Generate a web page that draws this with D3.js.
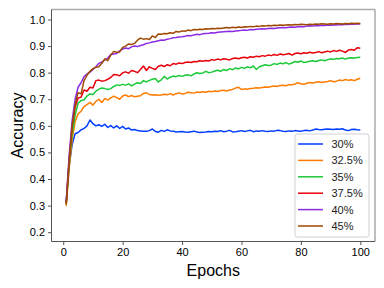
<!DOCTYPE html>
<html>
<head>
<meta charset="utf-8">
<script src="https://cdn.jsdelivr.net/npm/d3@7"></script>
<style>
  body { margin: 0; background: #fff; }
  svg { display: block; font-family: "Liberation Sans", Arial, sans-serif; }
</style>
</head>
<body>
<svg id="chart" width="384" height="288"></svg>
<script>
// accuracy per epoch (epochs 1..100)
var labels = ["30%", "32.5%", "35%", "37.5%", "40%", "45%"];
var colors = ["#023eff", "#ff7c00", "#1ac938", "#e8000b", "#8b2be2", "#9f4800"];
var xTicks = [0, 20, 40, 60, 80, 100];
var yTicks = [0.2, 0.3, 0.4, 0.5, 0.6, 0.7, 0.8, 0.9, 1.0];

var acc30 = [0.31,0.45,0.53,0.57,0.575,0.585,0.59,0.60,0.622,0.608,
  0.600,0.604,0.598,0.606,0.594,0.601,0.592,0.600,0.590,0.598,
  0.588,0.592,0.584,0.586,0.582,0.581,0.580,0.580,0.582,0.588,
  0.579,0.576,0.583,0.579,0.585,0.581,0.580,0.577,0.578,0.579,
  0.577,0.576,0.578,0.580,0.577,0.575,0.576,0.577,0.579,0.578,
  0.580,0.579,0.582,0.578,0.580,0.583,0.577,0.578,0.580,0.582,
  0.579,0.581,0.583,0.578,0.581,0.580,0.582,0.580,0.579,0.581,
  0.580,0.583,0.582,0.580,0.579,0.581,0.580,0.582,0.581,0.580,
  0.582,0.583,0.581,0.584,0.588,0.586,0.585,0.587,0.588,0.587,
  0.586,0.588,0.587,0.589,0.584,0.582,0.586,0.587,0.585,0.584];
var acc325 = [0.298,0.44,0.55,0.615,0.645,0.655,0.672,0.68,0.688,0.678,
  0.692,0.700,0.688,0.703,0.697,0.705,0.712,0.706,0.700,0.712,
  0.716,0.710,0.714,0.709,0.711,0.713,0.722,0.724,0.718,0.716,
  0.717,0.715,0.716,0.719,0.717,0.721,0.716,0.721,0.724,0.720,
  0.722,0.726,0.724,0.723,0.727,0.725,0.728,0.726,0.730,0.728,
  0.731,0.729,0.733,0.734,0.731,0.735,0.737,0.742,0.745,0.737,
  0.739,0.738,0.740,0.741,0.743,0.742,0.744,0.746,0.745,0.748,
  0.750,0.748,0.752,0.753,0.751,0.755,0.754,0.757,0.762,0.758,
  0.756,0.760,0.763,0.761,0.764,0.766,0.763,0.765,0.767,0.770,
  0.766,0.768,0.772,0.770,0.774,0.771,0.773,0.770,0.775,0.779];
var acc35 = [0.305,0.46,0.57,0.64,0.685,0.695,0.697,0.712,0.720,0.718,
  0.730,0.738,0.742,0.740,0.737,0.740,0.748,0.754,0.752,0.756,
  0.753,0.758,0.750,0.757,0.762,0.759,0.770,0.765,0.771,0.775,
  0.778,0.765,0.773,0.786,0.776,0.783,0.787,0.785,0.789,0.786,
  0.790,0.792,0.788,0.795,0.800,0.797,0.799,0.805,0.800,0.802,
  0.806,0.809,0.805,0.812,0.808,0.815,0.811,0.818,0.814,0.820,
  0.816,0.822,0.818,0.825,0.812,0.822,0.826,0.830,0.827,0.828,
  0.834,0.831,0.836,0.833,0.838,0.832,0.836,0.842,0.839,0.844,
  0.838,0.840,0.843,0.845,0.842,0.846,0.848,0.845,0.849,0.851,
  0.850,0.853,0.852,0.855,0.851,0.855,0.856,0.855,0.857,0.858];
var acc375 = [0.31,0.47,0.60,0.67,0.705,0.708,0.735,0.730,0.745,0.742,
  0.770,0.772,0.768,0.770,0.775,0.782,0.793,0.792,0.788,0.800,
  0.803,0.798,0.808,0.805,0.800,0.812,0.825,0.808,0.822,0.816,
  0.812,0.824,0.828,0.823,0.830,0.826,0.834,0.832,0.836,0.834,
  0.838,0.840,0.838,0.842,0.841,0.845,0.843,0.846,0.844,0.849,
  0.847,0.851,0.848,0.852,0.850,0.848,0.853,0.855,0.852,0.856,
  0.858,0.855,0.860,0.858,0.862,0.860,0.864,0.862,0.866,0.864,
  0.868,0.865,0.870,0.867,0.869,0.872,0.866,0.872,0.874,0.871,
  0.875,0.873,0.877,0.874,0.876,0.879,0.875,0.878,0.881,0.878,
  0.883,0.880,0.884,0.881,0.876,0.885,0.887,0.884,0.894,0.892];
var acc40 = [0.315,0.49,0.62,0.70,0.745,0.762,0.785,0.795,0.802,0.812,
  0.822,0.835,0.840,0.848,0.855,0.868,0.870,0.872,0.882,0.889,
  0.893,0.890,0.897,0.900,0.898,0.902,0.905,0.910,0.912,0.915,
  0.917,0.920,0.923,0.922,0.926,0.928,0.931,0.932,0.934,0.935,
  0.937,0.940,0.939,0.942,0.944,0.943,0.946,0.947,0.948,0.950,
  0.949,0.952,0.953,0.954,0.955,0.956,0.955,0.957,0.958,0.959,
  0.960,0.959,0.962,0.961,0.963,0.964,0.965,0.964,0.966,0.967,
  0.966,0.968,0.969,0.970,0.969,0.971,0.972,0.971,0.973,0.974,
  0.973,0.975,0.976,0.975,0.977,0.976,0.978,0.977,0.979,0.978,
  0.980,0.979,0.981,0.980,0.982,0.981,0.983,0.982,0.984,0.983];
var acc45 = [0.305,0.47,0.60,0.68,0.725,0.72,0.77,0.79,0.805,0.815,
  0.820,0.822,0.835,0.852,0.845,0.866,0.880,0.877,0.878,0.895,
  0.900,0.908,0.906,0.910,0.922,0.930,0.926,0.928,0.925,0.938,
  0.932,0.945,0.944,0.947,0.946,0.950,0.948,0.955,0.953,0.957,
  0.956,0.960,0.958,0.962,0.961,0.963,0.962,0.965,0.964,0.966,
  0.965,0.967,0.966,0.968,0.970,0.968,0.971,0.969,0.972,0.970,
  0.973,0.972,0.974,0.973,0.975,0.974,0.976,0.975,0.977,0.976,
  0.978,0.977,0.979,0.978,0.979,0.980,0.979,0.981,0.980,0.982,
  0.981,0.980,0.982,0.981,0.983,0.982,0.984,0.983,0.982,0.984,
  0.983,0.985,0.984,0.983,0.985,0.984,0.986,0.985,0.986,0.985];

var series = [acc30, acc325, acc35, acc375, acc40, acc45];

var svg = d3.select("#chart");
// plot box edges (note: "top" is reserved on window, so use other names)
var pLeft = 51.5, pRight = 375, pTop = 9.5, pBottom = 241.5;

var x = d3.scaleLinear().domain([-3.95, 104.95]).range([pLeft, pRight]);
var y = d3.scaleLinear().domain([0.165, 1.0375]).range([pBottom, pTop]);

// lines
var line = d3.line()
  .x(function (d, i) { return x(i + 1); })
  .y(function (d) { return y(d); });

svg.append("g").selectAll("path")
  .data(series)
  .enter()
  .append("path")
  .attr("d", line)
  .attr("fill", "none")
  .attr("stroke", function (d, i) { return colors[i]; })
  .attr("stroke-width", 1.5)
  .attr("stroke-linejoin", "round");

// frame: top/right lighter like the original
svg.append("line").attr("x1", pLeft).attr("x2", pRight).attr("y1", pTop).attr("y2", pTop)
  .attr("stroke", "#aaaaaa").attr("stroke-width", 1.5);
svg.append("line").attr("x1", pRight).attr("x2", pRight).attr("y1", pTop).attr("y2", pBottom)
  .attr("stroke", "#aaaaaa").attr("stroke-width", 1.5);

// axes
var xAxis = svg.append("g")
  .attr("transform", "translate(0," + pBottom + ")")
  .call(d3.axisBottom(x).tickValues(xTicks).tickSize(3.5).tickPadding(3).tickFormat(d3.format("d")));
var yAxis = svg.append("g")
  .attr("transform", "translate(" + pLeft + ",0)")
  .call(d3.axisLeft(y).tickValues(yTicks).tickSize(3.5).tickPadding(3).tickFormat(d3.format(".1f")));

[xAxis, yAxis].forEach(function (g) {
  g.select(".domain").attr("stroke", "#555555");
  g.selectAll(".tick line").attr("stroke", "#555555");
  g.selectAll(".tick text").attr("fill", "#000").style("font-size", "11px");
});
xAxis.select(".domain").attr("d", "M" + pLeft + ",0H" + pRight);
yAxis.select(".domain").attr("d", "M0," + pTop + "V" + pBottom);

// axis titles
svg.append("text")
  .attr("x", (pLeft + pRight) / 2).attr("y", 276)
  .attr("text-anchor", "middle")
  .style("font-size", "16px")
  .text("Epochs");
svg.append("text")
  .attr("transform", "translate(23," + (pTop + pBottom) / 2 + ") rotate(-90)")
  .attr("text-anchor", "middle")
  .style("font-size", "16px")
  .text("Accuracy");

// legend
var legend = svg.append("g");
legend.append("rect")
  .attr("x", 295).attr("y", 134).attr("width", 74).attr("height", 103)
  .attr("rx", 2.5)
  .attr("fill", "#fff").attr("fill-opacity", 0.85)
  .attr("stroke", "#d0d0d0").attr("stroke-width", 1);

var item = legend.selectAll("g.item")
  .data(labels)
  .enter()
  .append("g")
  .attr("class", "item")
  .attr("transform", function (d, i) { return "translate(0," + (144 + i * 16.4) + ")"; });
item.append("line")
  .attr("x1", 298).attr("x2", 323)
  .attr("stroke", function (d, i) { return colors[i]; })
  .attr("stroke-width", 1.5);
item.append("text")
  .attr("x", 331.5).attr("y", 4)
  .style("font-size", "11px")
  .attr("fill", "#222")
  .text(function (d) { return d; });
</script>
</body>
</html>
